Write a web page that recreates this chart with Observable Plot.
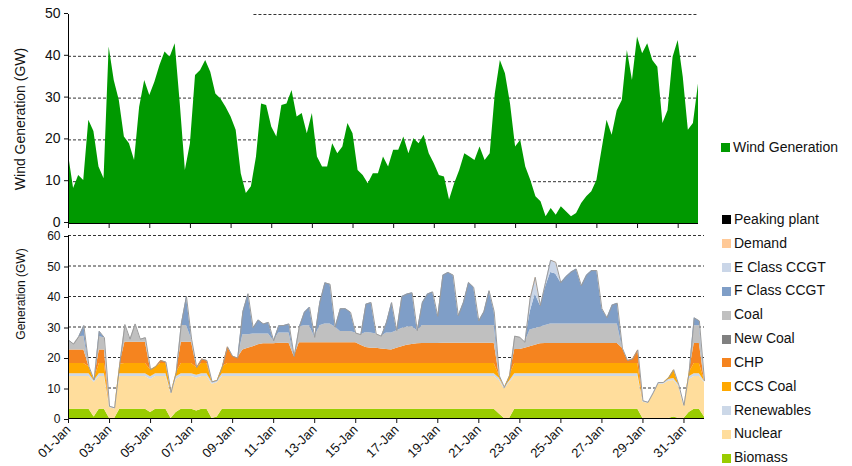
<!DOCTYPE html>
<html>
<head>
<meta charset="utf-8">
<script src="https://cdn.jsdelivr.net/npm/d3@7"></script>
<script src="https://cdn.jsdelivr.net/npm/@observablehq/plot@0.6"></script>
<style>
  body { margin: 0; background: #fff; font-family: Arial, "Liberation Sans", sans-serif; }
  #wrap { position: relative; width: 852px; height: 466px; overflow: hidden; }
  #top { position: absolute; left: 0; top: 0; }
  #bottom { position: absolute; left: 0; top: 226px; }
  .ytitle { position: absolute; text-align: center; transform: rotate(-90deg); color: #111; white-space: nowrap; }
  .lg { position: absolute; left: 722px; height: 16px; line-height: 16px; font-size: 14px; color: #111; white-space: nowrap; }
  .lg i { display: inline-block; width: 9px; height: 9px; margin-right: 3px; vertical-align: -0.5px; }
</style>
</head>
<body>
<div id="wrap">
  <div id="top"></div>
  <div id="bottom"></div>
  <div class="ytitle" style="left:-80px;top:111px;width:200px;height:16px;line-height:16px;font-size:14px;">Wind Generation (GW)</div>
  <div class="ytitle" style="left:-59px;top:287px;width:160px;height:14px;line-height:14px;font-size:12px;">Generation (GW)</div>
  <div id="legend"></div>
</div>
<script>
// 6-hourly readings, 01-Jan 00:00 to 01-Feb 00:00 (one row per day)
const wind = [
  16.5, 8.4, 11.5, 10.3,
  24.7, 22, 13.5, 10.7,
  42.2, 34.2, 29.4, 20.7,
  19.1, 15.1, 27.8, 34.2,
  30.6, 33.8, 37.8, 41,
  39.8, 43, 28.6, 12.7,
  19.1, 35.4, 36.6, 39,
  36.2, 31, 29.8, 27.8,
  25.5, 22.3, 11.9, 7.2,
  8.8, 15.9, 28.6, 28.2,
  23.1, 20.7, 28.2, 28.6,
  31.8, 25.5, 26.3, 21.5,
  26.3, 15.9, 13.5, 13.5,
  19.1, 16.7, 18.3, 23.9,
  21.5, 12.7, 11.5, 9.5,
  11.9, 11.9, 15.9, 13.5,
  17.5, 17.5, 20.7, 16.7,
  20.3, 19.1, 21.1, 16.7,
  14.3, 11.5, 11.1, 5.6,
  9.5, 12.7, 16.7, 15.9,
  15.1, 18.3, 15.1, 16.7,
  31, 39, 35.8, 28.6,
  18.3, 19.9, 13.5, 10.3,
  6.4, 5.2, 1.6, 3.6,
  2.0, 4.0, 2.8, 1.6,
  2.4, 4.8, 6.4, 7.6,
  10.3, 17.5, 24.7, 21.1,
  27, 29.4, 41.4, 34.2,
  44.6, 40.6, 43, 39,
  37.4, 23.9, 27, 39.8,
  43.8, 35, 22.3, 23.9,
  33.4
];

const biomass = [
  3, 3, 3, 3,
  3, 0.5, 3, 3,
  0, 0, 3, 3,
  3, 3, 3, 3,
  2, 3, 3, 3,
  0, 2, 3, 3,
  3, 2.5, 3, 3,
  0, 0.5, 3, 3,
  3, 3, 3, 3,
  3, 3, 3, 3,
  3, 3, 3, 3,
  3, 3, 3, 3,
  3, 3, 3, 3,
  3, 3, 3, 3,
  3, 3, 3, 3,
  3, 3, 3, 3,
  3, 3, 3, 3,
  3, 3, 3, 3,
  3, 3, 3, 3,
  3, 3, 3, 3,
  3, 3, 3, 3,
  1.5, 0, 0, 3,
  3, 3, 3, 3,
  3, 3, 3, 3,
  3, 3, 3, 3,
  3, 3, 3, 3,
  3, 3, 3, 3,
  3, 3, 3, 3,
  0, 0, 0, 0,
  0, 0, 0.5, 0,
  0, 2, 3, 3,
  0.5
];

const nuclear = [
  10.8, 10.8, 10.8, 10.8,
  10.8, 11.3, 10.8, 10.8,
  3.6, 3.1, 10.8, 10.8,
  10.8, 10.8, 10.8, 10.8,
  10.8, 10.8, 10.8, 10.8,
  8, 10.8, 10.8, 10.8,
  10.8, 10.8, 10.8, 10.8,
  11.2, 11.2, 10.8, 10.8,
  10.8, 10.8, 10.8, 10.8,
  10.8, 10.8, 10.8, 10.8,
  10.8, 10.8, 10.8, 10.8,
  10.8, 10.8, 10.8, 10.8,
  10.8, 10.8, 10.8, 10.8,
  10.8, 10.8, 10.8, 10.8,
  10.8, 10.8, 10.8, 10.8,
  10.8, 10.8, 10.8, 10.8,
  10.8, 10.8, 10.8, 10.8,
  10.8, 10.8, 10.8, 10.8,
  10.8, 10.8, 10.8, 10.8,
  10.8, 10.8, 10.8, 10.8,
  10.8, 10.8, 10.8, 10.8,
  11, 9.7, 11.8, 10.8,
  10.8, 10.8, 10.8, 10.8,
  10.8, 10.8, 10.8, 10.8,
  10.8, 10.8, 10.8, 10.8,
  10.8, 10.8, 10.8, 10.8,
  10.8, 10.8, 10.8, 10.8,
  10.8, 10.8, 10.8, 10.8,
  5.4, 4.9, 7.9, 11.2,
  11.2, 12.2, 12, 10.4,
  3.9, 10.8, 10.8, 10.8,
  11.2
];

const renewables = [
  0.9, 0.9, 0.9, 0.9,
  0.9, 0.6, 0.9, 0.9,
  0.4, 0.4, 0.9, 0.9,
  0.9, 0.9, 0.9, 0.9,
  0.9, 0.9, 0.9, 0.9,
  0.5, 0.9, 0.9, 0.9,
  0.9, 0.9, 0.9, 0.9,
  0.6, 0.6, 0.9, 0.9,
  0.9, 0.9, 0.9, 0.9,
  0.9, 0.9, 0.9, 0.9,
  0.9, 0.9, 0.9, 0.9,
  0.9, 0.9, 0.9, 0.9,
  0.9, 0.9, 0.9, 0.9,
  0.9, 0.9, 0.9, 0.9,
  0.9, 0.9, 0.9, 0.9,
  0.9, 0.9, 0.9, 0.9,
  0.9, 0.9, 0.9, 0.9,
  0.9, 0.9, 0.9, 0.9,
  0.9, 0.9, 0.9, 0.9,
  0.9, 0.9, 0.9, 0.9,
  0.9, 0.9, 0.9, 0.9,
  0.7, 0.5, 0.5, 0.9,
  0.9, 0.9, 0.9, 0.9,
  0.9, 0.9, 0.9, 0.9,
  0.9, 0.9, 0.9, 0.9,
  0.9, 0.9, 0.9, 0.9,
  0.9, 0.9, 0.9, 0.9,
  0.9, 0.9, 0.9, 0.9,
  0.4, 0.4, 0.5, 0.6,
  0.6, 0.6, 0.6, 0.6,
  0.4, 0.9, 0.9, 0.9,
  0.5
];

const ccsCoal = [
  3.3, 3.3, 3.3, 3.3,
  2.3, 0.2, 3.3, 3.3,
  0, 0, 3.1, 3.3,
  3.3, 3.3, 3.3, 3.3,
  2.3, 2.3, 3.3, 3.3,
  0, 1.3, 3.3, 3.3,
  3.3, 2.5, 3.3, 3.3,
  0.2, 0.2, 2.3, 3.3,
  3.3, 3.3, 3.3, 3.3,
  3.3, 3.3, 3.3, 3.3,
  3.3, 3.3, 3.3, 3.3,
  3.3, 3.3, 3.3, 3.3,
  3.3, 3.3, 3.3, 3.3,
  3.3, 3.3, 3.3, 3.3,
  3.3, 3.3, 3.3, 3.3,
  3.3, 3.3, 3.3, 3.3,
  3.3, 3.3, 3.3, 3.3,
  3.3, 3.3, 3.3, 3.3,
  3.3, 3.3, 3.3, 3.3,
  3.3, 3.3, 3.3, 3.3,
  3.3, 3.3, 3.3, 3.3,
  0.8, 0, 1.7, 3.3,
  3.3, 3.3, 3.3, 3.3,
  3.3, 3.3, 3.3, 3.3,
  3.3, 3.3, 3.3, 3.3,
  3.3, 3.3, 3.3, 3.3,
  3.3, 3.3, 3.3, 3.3,
  3.3, 3.3, 3.3, 3.3,
  0, 0, 0, 0,
  0, 0.5, 2.9, 0,
  0, 1.3, 3.3, 3.3,
  0.2
];

const chp = [
  4.5, 4.5, 4.5, 4.5,
  0, 0, 4.5, 4.5,
  0, 0, 0, 7,
  7, 7, 7, 7,
  0, 0, 1, 0.5,
  0, 0, 7, 7,
  7, 0, 1.5, 1,
  0, 0, 0, 5.5,
  2.4, 1.8, 4.5, 5,
  5.5, 6.2, 6.5, 6.5,
  6.5, 6.7, 6.7, 6.7,
  2.3, 6.8, 6.8, 6.8,
  6.8, 6.8, 6.8, 6.8,
  6.8, 6.8, 6.8, 6.8,
  6.8, 6, 5.3, 5,
  5, 4.8, 4.6, 4.5,
  5, 5.5, 6, 6.3,
  6.5, 6.6, 6.6, 6.6,
  6.6, 6.7, 6.7, 6.7,
  6.7, 6.7, 6.7, 6.7,
  6.7, 6.7, 6.7, 6.7,
  0, 0, 0, 4.6,
  4.6, 5, 5.5, 6,
  6.5, 6.6, 6.6, 6.6,
  6.6, 6.6, 6.6, 6.6,
  6.6, 6.6, 6.6, 6.6,
  6.6, 6.6, 6.6, 6.6,
  5, 1, 1.5, 4.5,
  0, 0, 0, 0,
  0, 0, 0, 0,
  0, 0, 6.6, 6.6,
  0
];

const coal = [
  3.2, 1.9, 4.3, 4.5,
  0, 0, 4.3, 4,
  0, 0, 0, 5.8,
  1, 6, 1, 1.5,
  0, 0, 0, 0,
  0, 0, 5.5, 5.5,
  1, 0, 0, 0,
  0, 0, 0, 0,
  0, 0, 5, 4.5,
  4.2, 3.5, 3.2, 3.2,
  1, 3.3, 3.3, 3.3,
  0, 5.2, 5.6, 5.6,
  1.8, 5.6, 6.2, 6.2,
  5.2, 3.7, 3.7, 3.7,
  3.2, 3.5, 4.9, 5,
  4.7, 4.2, 5.4, 5.5,
  5.8, 6, 6, 5.9,
  4.3, 5.9, 5.9, 5.9,
  5.9, 5.8, 5.8, 5.8,
  5.8, 5.8, 5.8, 5.8,
  5.8, 5.8, 5.8, 5.8,
  0, 0, 0, 4.4,
  4, 2, 5.5, 5.5,
  5.5, 5.9, 6.4, 6.4,
  6.4, 6.4, 6.4, 6.4,
  6.4, 6.4, 6.4, 6.4,
  6.4, 6.4, 6.4, 6.4,
  0, 0, 0, 0,
  0, 0, 0, 0,
  0, 0, 0, 0,
  0, 0, 5.8, 5.8,
  0
];

const fClassCcgt = [
  0, 0, 0, 3.5,
  0, 0, 1.8, 0,
  0, 0, 0, 0,
  0, 0, 0, 0,
  0, 0, 0, 0,
  0, 0, 0.5, 9.5,
  0, 0, 0, 0,
  0, 0, 0, 0,
  0, 0, 7.5, 13.4,
  2, 4.6, 3.3, 3.8,
  0, 2.4, 2.5, 3,
  0, 0, 4.4, 6.1,
  0, 7.6, 13.5, 13,
  0, 7.5, 7.5, 6.3,
  0, 0, 9.3, 10,
  0, 0, 3.5, 10,
  0, 10.5, 10.8, 11,
  0, 7.5, 10.3, 11,
  3, 16.5, 17.4, 16.5,
  3.2, 7.5, 14.1, 12.5,
  1.5, 4.5, 11.4, 4.5,
  0, 0, 0, 0,
  0, 0, 5.8, 11.3,
  7, 12.5, 16.9, 16.4,
  13.5, 15.5, 17, 18,
  12.5, 16, 17.5, 17.5,
  5, 2, 6.2, 6.8,
  0, 0, 0, 0,
  0, 0, 0, 0,
  0, 0, 0, 0,
  0, 0, 2.6, 1.6,
  0
];

const eClassCcgt = [
  0, 0, 0, 0,  0, 0, 0, 0,  0, 0, 0, 0,  0, 0, 0, 0,
  0, 0, 0, 0,  0, 0, 0, 0,  0, 0, 0, 0,  0, 0, 0, 0,
  0, 0, 0, 0,  0, 0, 0, 0,  0, 0, 0, 0,  0, 0, 0, 0,
  0, 0, 0, 0,  0, 0, 0, 0,  0, 0, 0, 0,  0, 0, 0, 0,
  0, 0, 0, 0,  0, 0, 0, 0,  0, 0, 0, 0,  0, 0, 0, 0,
  0, 0, 0, 0,  0, 0, 0, 0,
  0, 0, 4.1, 4.7,
  0, 1.5, 4, 3.5,
  0, 0, 0, 0,  0, 0, 0, 0,  0, 0, 0, 0,  0, 0, 0, 0,
  0, 0, 0, 0,  0, 0, 0, 0,
  0
];

const demand = [
  0, 0, 0, 0,  0, 0, 0, 0,  0, 0, 0, 0,  0, 0, 0, 0,
  0, 0, 0, 0,  0, 0, 0, 0,  0, 0, 0, 0,  0, 0, 0, 0,
  0, 0, 0, 0,  0, 0, 0, 0,  0, 0, 0, 0,  0, 0, 0, 0,
  0, 0, 0, 0,  0, 0, 0, 0,  0, 0, 0, 0,  0, 0, 0, 0,
  0, 0, 0, 0,  0, 0, 0, 0,  0, 0, 0, 0,  0, 0, 0, 0,
  0, 0, 0, 0,  0, 0, 0, 0,
  0, 0, 0.4, 0.8,
  0, 0, 0, 0.3,
  0, 0, 0, 0,  0, 0, 0, 0,  0, 0, 0, 0,  0, 0, 0, 0,
  0, 0, 0, 0,  0, 0, 0, 0,
  0
];

const tickDays = [1, 3, 5, 7, 9, 11, 13, 15, 17, 19, 21, 23, 25, 27, 29, 31];
const windTicks = [0, 10, 20, 30, 40, 50];
const genTicks = [0, 10, 20, 30, 40, 50, 60];

// legend order, top to bottom, with colours
const legendNames = ["Peaking plant", "Demand", "E Class CCGT", "F Class CCGT", "Coal", "New Coal", "CHP", "CCS Coal", "Renewables", "Nuclear", "Biomass"];
const legendColors = ["#000000", "#ffc997", "#cad6e8", "#7f9ec7", "#c0c0c0", "#808080", "#f5841f", "#ffa800", "#ccd8e8", "#ffdd9c", "#99cc00"];

const start = Date.UTC(2011, 0, 1);
const times = wind.map((d, i) => new Date(start + i * 6 * 3600e3));
const dayTicks = tickDays.map(d => new Date(Date.UTC(2011, 0, d)));
const grid50 = [{y: 50, x1: new Date(Date.UTC(2011, 0, 10, 3)), x2: times[times.length - 1]}];

const stacked = [
  ["Biomass", biomass], ["Nuclear", nuclear], ["Renewables", renewables],
  ["CCS Coal", ccsCoal], ["CHP", chp], ["Coal", coal],
  ["F Class CCGT", fClassCcgt], ["E Class CCGT", eClassCcgt], ["Demand", demand]
];
const genRows = stacked.flatMap(([name, vals]) => vals.map((v, i) => ({date: times[i], name, value: v})));
const windRows = wind.map((v, i) => ({date: times[i], value: v}));

const baseStyle = {
  fontFamily: "Arial, 'Liberation Sans', sans-serif",
  fontSize: "12px",
  color: "#111",
  background: "transparent",
  overflow: "visible"
};
const gridStyle = {stroke: "#333", strokeOpacity: 1, strokeDasharray: "3,2", strokeWidth: 1};

let topChart = Plot.plot({
  width: 700,
  height: 230,
  marginLeft: 68,
  marginRight: 2,
  marginTop: 14,
  marginBottom: 7,
  style: baseStyle,
  x: {type: "utc", domain: [times[0], times[times.length - 1]]},
  y: {domain: [0, 50]},
  marks: [
    Plot.gridY([10, 20, 30, 40], gridStyle),
    Plot.ruleY(grid50, {y: "y", x1: "x1", x2: "x2", ...gridStyle}),
    Plot.areaY(windRows, {x: "date", y: "value", fill: "#009900"}),
    Plot.ruleY([0], {stroke: "#000"}),
    Plot.ruleX([times[0]], {stroke: "#000"}),
    Plot.axisY({ticks: windTicks, tickSize: 4, tickPadding: 4, fontSize: 14, dy: -1, label: null}),
    Plot.axisX({ticks: dayTicks, tickSize: 5, tickFormat: () => "", label: null})
  ]
});

const colorMap = new Map(legendNames.map((n, i) => [n, legendColors[i]]));

let bottomChart = Plot.plot({
  width: 706,
  height: 240,
  marginLeft: 68,
  marginRight: 2,
  marginTop: 9,
  marginBottom: 48,
  style: baseStyle,
  x: {type: "utc", domain: [times[0], times[times.length - 1]]},
  y: {domain: [0, 60]},
  color: {domain: stacked.map(d => d[0]), range: stacked.map(d => colorMap.get(d[0]))},
  marks: [
    Plot.gridY([10, 20, 30, 40, 50, 60], gridStyle),
    Plot.areaY(genRows, {x: "date", y: "value", fill: "name"}),
    Plot.lineY(genRows, Plot.groupX({y: "sum"}, {x: "date", y: "value", stroke: "#9b9b9b", strokeWidth: 1})),
    Plot.ruleY([0], {stroke: "#000"}),
    Plot.ruleX([times[0]], {stroke: "#000"}),
    Plot.axisY({ticks: genTicks, tickSize: 4, tickPadding: 4, fontSize: 12, dy: 1, label: null}),
    Plot.axisX({
      ticks: dayTicks,
      tickSize: 5,
      tickPadding: 4,
      tickRotate: -45,
      fontSize: 13,
      tickFormat: d3.utcFormat("%d-%b"),
      label: null
    })
  ]
});

d3.select("#top").append(() => topChart);
d3.select("#bottom").append(() => bottomChart);

// legends
const lg = d3.select("#legend");
const topItem = lg.append("div").attr("class", "lg").style("top", (146.5 - 8) + "px").style("left", "721px");
topItem.append("i").style("background", "#009900");
topItem.append("span").text("Wind Generation");

legendNames.forEach((name, i) => {
  const item = lg.append("div").attr("class", "lg").style("top", (218.8 + i * 23.85 - 8) + "px");
  item.append("i").style("background", legendColors[i]);
  item.append("span").text(name);
});
</script>
</body>
</html>
